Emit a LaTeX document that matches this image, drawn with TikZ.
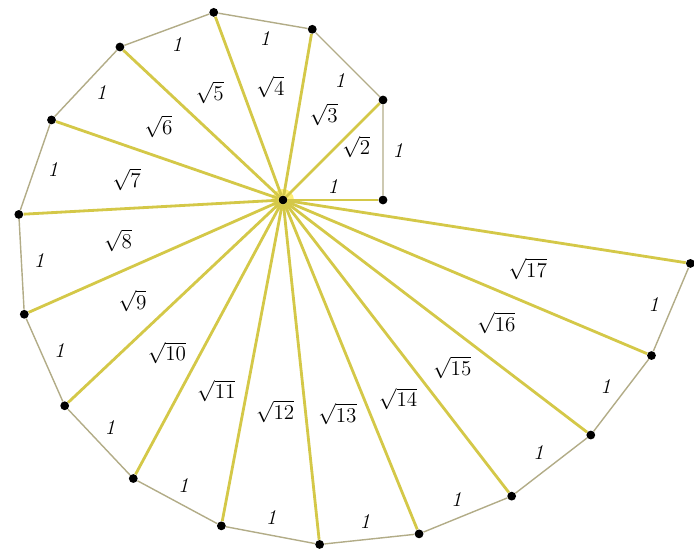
\documentclass[tikz,border=0pt]{standalone}
\usepackage{xcolor}
\usepackage{tikz}
\usetikzlibrary{calc}
\definecolor{spokeyellow}{RGB}{212,200,72}
\definecolor{edgekhaki}{RGB}{178,172,135}
\definecolor{glowyellow}{RGB}{255,232,60}

\begin{document}
\begin{tikzpicture}[x=2cm,y=2cm,
    dot/.style={circle,fill=black,inner sep=0pt,minimum size=5pt},
    spoke/.style={draw=spokeyellow,line width=1.6pt},
    edge/.style={draw=edgekhaki,line width=0.8pt},
    root/.style={font=\large},
    unit/.style={font=\large\itshape}
  ]
    \useasboundingbox (-2.83,-3.49) rectangle (4.11,2.0);
    \fill[glowyellow,opacity=0.7] (0,0) circle (0.11);
    \node[dot] (o) at (0,0) {};
    \node[dot] (p1) at (0:1) {};
    \node[dot] (p2) at (45:1.4142) {};
    \node[dot] (p3) at (80.264:1.7321) {};
    \node[dot] (p4) at (110.264:2) {};
    \node[dot] (p5) at (136.829:2.2361) {};
    \node[dot] (p6) at (160.924:2.4495) {};
    \node[dot] (p7) at (183.132:2.6458) {};
    \node[dot] (p8) at (203.837:2.8284) {};
    \node[dot] (p9) at (223.308:3) {};
    \node[dot] (p10) at (241.743:3.1623) {};
    \node[dot] (p11) at (259.291:3.3166) {};
    \node[dot] (p12) at (276.070:3.4641) {};
    \node[dot] (p13) at (292.172:3.6056) {};
    \node[dot] (p14) at (307.673:3.7417) {};
    \node[dot] (p15) at (322.636:3.8730) {};
    \node[dot] (p16) at (337.114:4) {};
    \node[dot] (p17) at (351.150:4.1231) {};
    % hypotenuses from the centre
    \foreach \n in {1,...,17}
      \draw[spoke] (o) -- (p\n);
    % outer unit sides
    \foreach \n [count=\m from 2] in {1,...,16}
      \draw[edge] (p\n) -- (p\m);
    % labels
    \node[unit] (u1) at ($(o)!0.5!(p1)+(0,0.14)$) {1};
    \node[unit,right=2pt] (u2) at ($(p1)!0.5!(p2)$) {1};
    \node[root] (r2) at (barycentric cs:o=0.8,p1=0.6,p2=1.6) {$\sqrt{2}$};
    \foreach \n [count=\m from 3] in {2,...,16} {
      \node[unit] (u\m) at ($(p\n)!0.5!(p\m)!0.36cm!(o)$) {1};
      \node[root] (r\m) at (barycentric cs:o=1.17,p\n=1,p\m=1) {$\sqrt{\m}$};
    }
  \end{tikzpicture}
\end{document}
